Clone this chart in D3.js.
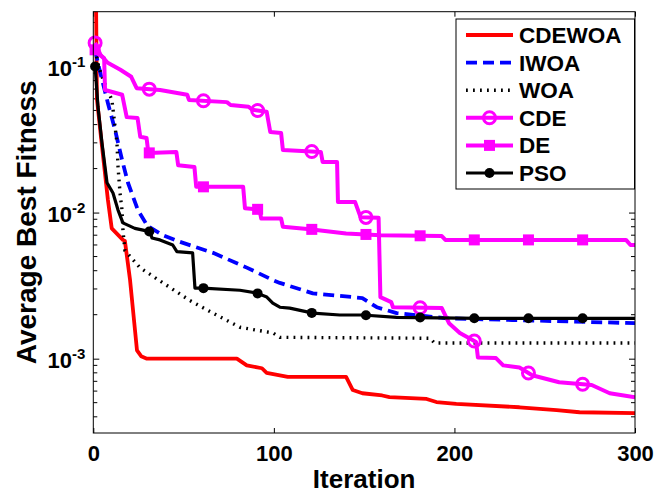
<!DOCTYPE html>
<html><head><meta charset="utf-8">
<script src="https://cdn.jsdelivr.net/npm/d3@7"></script>
<style>
html,body{margin:0;padding:0;background:#fff;}
text{font-family:"Liberation Sans",Arial,Helvetica,sans-serif;font-weight:bold;}
</style></head>
<body>
<svg id="chart" width="656" height="494"></svg>
<script>
// ---- data (iteration, average best fitness) ----
const seriesNames = ["CDEWOA","IWOA","WOA","CDE","DE","PSO"];
const cdewoa = [[1,1.0],[1.5,0.3],[2,0.06],[4.6,0.030],[8.1,0.0122],[10.2,0.0078],[16.4,0.0065],[17.5,0.0064],[20.3,0.0035],[24.2,0.00114],[26.5,0.00104],[29.7,0.00100],[79.5,0.00100],[85,0.00090],[93.4,0.00086],[96,0.00080],[107.7,0.00075],[140,0.00075],[143.7,0.00061],[149,0.00058],[160,0.00056],[164,0.000545],[184.6,0.00053],[190,0.000505],[201,0.00049],[236,0.000465],[256.6,0.000445],[269.3,0.00043],[300,0.000424]];
const iwoa = [[1,0.13],[3,0.10],[5.9,0.072],[8.1,0.056],[12,0.037],[15.9,0.023],[19.2,0.016],[24.7,0.0104],[30,0.0081],[38.6,0.0070],[48,0.0063],[66.3,0.0053],[85,0.0042],[99.5,0.00345],[103.3,0.0033],[121.6,0.0028],[149,0.0026],[157,0.00225],[168,0.00205],[196,0.00189],[232,0.00184],[300,0.00175]];
const woa = [[1,0.13],[3,0.10],[5.4,0.081],[10.3,0.059],[13.1,0.030],[13.7,0.0205],[14.8,0.0136],[15.9,0.0104],[16.4,0.0076],[17.5,0.0055],[25.8,0.0042],[38.6,0.0033],[53.5,0.0025],[66.3,0.00205],[81.2,0.00164],[99.5,0.0015],[103.3,0.0014],[186.4,0.00138],[189,0.00128],[300,0.00128]];
const cde = [[1,0.145],[4,0.12],[8,0.106],[15,0.095],[21,0.085],[24,0.071],[37,0.069],[52,0.064],[53,0.059],[74,0.057],[76,0.0545],[86,0.053],[88,0.0505],[96,0.049],[98,0.0356],[104,0.035],[105,0.0268],[126,0.026],[127,0.0222],[135,0.0222],[135.5,0.0118],[145,0.0118],[148,0.0093],[158,0.0092],[159,0.00264],[165,0.00244],[166,0.00225],[193,0.00222],[197,0.00175],[203,0.0015],[212,0.0013],[213,0.00102],[223,0.00101],[227,0.00090],[236,0.00087],[243,0.00077],[258,0.00069],[276,0.00066],[286,0.00058],[300,0.000545]];
const de = [[1,0.13],[2,0.124],[6,0.114],[6.5,0.069],[16,0.064],[18.5,0.045],[24.5,0.0444],[26,0.033],[29.5,0.0324],[30.5,0.0256],[46,0.026],[47,0.0211],[56,0.0205],[57,0.015],[83,0.015],[84,0.0107],[92,0.0105],[93,0.0091],[104,0.0091],[105,0.0080],[120,0.0077],[140,0.0072],[159,0.0070],[193,0.0069],[195,0.0065],[295,0.0065],[297.5,0.0060],[300,0.0060]];
const pso = [[1,0.1],[2.6,0.053],[4.8,0.030],[7.6,0.016],[10.9,0.0136],[13.7,0.0104],[16.4,0.0085],[23,0.0078],[31.4,0.0074],[32.5,0.0067],[36.9,0.0065],[44,0.0060],[46.3,0.0054],[55,0.0053],[56.3,0.00304],[60.7,0.00304],[81.2,0.00294],[90.6,0.00281],[96.1,0.00264],[99.4,0.0024],[103.3,0.00225],[108.8,0.00222],[121.6,0.00205],[136.5,0.00199],[149.3,0.00199],[168,0.00192],[214,0.00189],[300,0.00189]];
const markerIters = [1,31,61,91,121,151,181,211,241,271];
const xTicks = [0,100,200,300];
const yTicks = [1e-3,1e-2,1e-1];

const series = [
  {name:"CDEWOA", data:cdewoa, color:"#ff0000", width:3.8, dash:null, marker:null},
  {name:"IWOA", data:iwoa, color:"#0000ff", width:3.8, dash:"11,6", marker:null},
  {name:"WOA", data:woa, color:"#000000", width:3.4, dash:"1.8,5.2", marker:null},
  {name:"CDE", data:cde, color:"#ff00ff", width:4, dash:null, marker:"circle"},
  {name:"DE", data:de, color:"#ff00ff", width:4, dash:null, marker:"square"},
  {name:"PSO", data:pso, color:"#000000", width:3.2, dash:null, marker:"dot"}
];

const svg = d3.select("#chart");
const L=93.3, R=635, T=11.7, B=433;
const x = d3.scaleLinear().domain([0,300]).range([L,R]);
const y = d3.scaleLog().domain([3.1e-4,0.237]).range([B,T]);

svg.append("rect").attr("width",656).attr("height",494).attr("fill","#fff");
svg.append("defs").append("clipPath").attr("id","clip")
  .append("rect").attr("x",L).attr("y",T).attr("width",R-L).attr("height",B-T);

// axes
const fs = 22;
const gx = svg.append("g").attr("transform",`translate(0,${B})`)
  .call(d3.axisBottom(x).tickValues(xTicks).tickSize(-5).tickPadding(12).tickFormat(d3.format("d")));
gx.select(".domain").remove();
gx.selectAll("text").attr("font-size",fs).attr("fill","#000");
const gxt = svg.append("g").attr("transform",`translate(0,${T})`)
  .call(d3.axisTop(x).tickValues(xTicks).tickSize(-5).tickFormat(""));
gxt.select(".domain").remove();

const gy = svg.append("g").attr("transform",`translate(${L},0)`)
  .call(d3.axisLeft(y).tickValues(yTicks).tickSize(-6).tickPadding(8).tickFormat(""));
gy.select(".domain").remove();
gy.selectAll(".tick text").each(function(d){
  const t=d3.select(this).attr("font-size",fs).attr("fill","#000").attr("dy","0.42em");
  t.append("tspan").text("10");
  t.append("tspan").attr("dy","-0.62em").attr("font-size","15px").text(String(Math.round(Math.log10(d))));
});
const gyr = svg.append("g").attr("transform",`translate(${R},0)`)
  .call(d3.axisRight(y).tickValues(yTicks).tickSize(-6).tickFormat(""));
gyr.select(".domain").remove();

// minor ticks
const minor=[];
[-4,-3,-2,-1].forEach(k=>{for(let m=2;m<=9;m++){const v=m*Math.pow(10,k); if(v>y.domain()[0]&&v<y.domain()[1]) minor.push(v);}});
svg.append("g").selectAll("line.ml").data(minor).enter().append("line")
  .attr("x1",L).attr("x2",L+4).attr("y1",d=>y(d)).attr("y2",d=>y(d)).attr("stroke","#000").attr("stroke-width",1);
svg.append("g").selectAll("line.mr").data(minor).enter().append("line")
  .attr("x1",R).attr("x2",R-4).attr("y1",d=>y(d)).attr("y2",d=>y(d)).attr("stroke","#000").attr("stroke-width",1);
svg.selectAll(".tick line").attr("stroke","#000").attr("stroke-width",1);

// lines
const line = d3.line().x(d=>x(d[0])).y(d=>y(d[1]));
const gl = svg.append("g").attr("clip-path","url(#clip)");
series.forEach(s=>{
  gl.append("path").datum(s.data).attr("d",line).attr("fill","none")
    .attr("stroke",s.color).attr("stroke-width",s.width)
    .attr("stroke-dasharray",s.dash).attr("stroke-linejoin","round");
});

function yAt(data,it){
  for(let i=0;i<data.length-1;i++){
    const a=data[i], b=data[i+1];
    if(it>=a[0]&&it<=b[0]){const t=(it-a[0])/(b[0]-a[0]); return y(a[1])+t*(y(b[1])-y(a[1]));}
  }
  return y(data[data.length-1][1]);
}
function drawMarker(g,type,cx,cy,color){
  if(type==="circle") g.append("circle").attr("cx",cx).attr("cy",cy).attr("r",6).attr("fill","none").attr("stroke",color).attr("stroke-width",3);
  else if(type==="square") g.append("rect").attr("x",cx-5.5).attr("y",cy-5.5).attr("width",11).attr("height",11).attr("fill",color);
  else if(type==="dot") g.append("circle").attr("cx",cx).attr("cy",cy).attr("r",5).attr("fill",color);
}
const gm = svg.append("g");
series.filter(s=>s.marker).forEach(s=>{
  markerIters.forEach(it=>drawMarker(gm,s.marker,x(it),yAt(s.data,it),s.color));
});

// frame
svg.append("rect").attr("x",L).attr("y",T).attr("width",R-L).attr("height",B-T)
  .attr("fill","none").attr("stroke","#000").attr("stroke-width",1);

// titles
svg.append("text").attr("x",(L+R)/2).attr("y",488).attr("text-anchor","middle").attr("font-size",26).text("Iteration");
svg.append("text").attr("transform",`translate(36,${(T+B)/2}) rotate(-90)`).attr("text-anchor","middle").attr("font-size",28).text("Average Best Fitness");

// legend
const lg = svg.append("g");
lg.append("rect").attr("x",456).attr("y",19).attr("width",178.5).attr("height",170).attr("fill","#fff").attr("stroke","#000").attr("stroke-width",1);
series.forEach((s,i)=>{
  const ry = 35 + i*27.6;
  lg.append("line").attr("x1",466).attr("x2",513).attr("y1",ry).attr("y2",ry)
    .attr("stroke",s.color).attr("stroke-width",s.width).attr("stroke-dasharray",s.dash);
  if(s.marker) drawMarker(lg,s.marker,489.5,ry,s.color);
  lg.append("text").attr("x",519).attr("y",ry+8).attr("font-size",22.5).text(s.name);
});
</script>
</body></html>
